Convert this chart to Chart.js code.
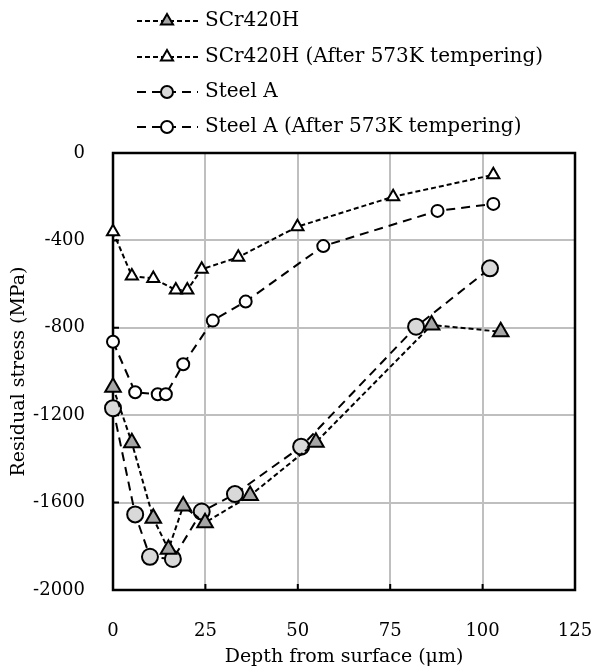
<!DOCTYPE html>
<html lang="en">
<head>
  <meta charset="UTF-8">
  <title>Residual stress vs depth</title>
  <script src="https://cdn.jsdelivr.net/npm/chart.js"></script>
  <style>
    html, body { margin: 0; padding: 0; background: #fff; }
    #wrap { width: 595px; height: 668px; }
  </style>
</head>
<body>
  <div id="wrap"><canvas id="stressChart" width="595" height="668"></canvas></div>

  <script>
    // depth (um) and residual stress (MPa)
    const depthSCr = [0, 5.1, 10.9, 15.0, 19.0, 24.9, 37.1, 54.9, 86.2, 104.9];
    const stressSCr = [-1072, -1326, -1672, -1814, -1616, -1692, -1568, -1324, -787, -818];

    const depthSCrT = [0, 5.1, 10.9, 17.0, 20.1, 24.0, 33.9, 49.9, 75.8, 102.9];
    const stressSCrT = [-360, -563, -574, -627, -627, -532, -477, -337, -200, -100];

    const depthA = [0, 6.0, 10.0, 16.2, 24.0, 33.0, 50.9, 82.0, 102.0];
    const stressA = [-1168, -1654, -1848, -1858, -1641, -1561, -1344, -795, -528];

    const depthAT = [0, 6.0, 12.1, 14.3, 19.0, 27.0, 35.9, 56.9, 87.8, 102.9];
    const stressAT = [-864, -1095, -1104, -1104, -967, -767, -680, -426, -265, -233];

    const seriesNames = ['SCr420H', 'SCr420H (After 573K tempering)', 'Steel A', 'Steel A (After 573K tempering)'];
    const xTicks = [0, 25, 50, 75, 100, 125];
    const yTicks = [0, -400, -800, -1200, -1600, -2000];

    const FONT = '"DejaVu Serif", "Liberation Serif", serif';

    function pts(xs, ys) {
      return xs.map((x, i) => ({ x: x, y: ys[i] }));
    }

    const shortDash = [5, 3];
    const longDash = [9, 6];

    const datasets = [
      {
        label: seriesNames[0], data: pts(depthSCr, stressSCr),
        borderDash: shortDash, pointStyle: 'triangle', pointRadius: 9,
        pointBackgroundColor: '#a6a6a6'
      },
      {
        label: seriesNames[1], data: pts(depthSCrT, stressSCrT),
        borderDash: shortDash, pointStyle: 'triangle', pointRadius: 7,
        pointBackgroundColor: '#ffffff'
      },
      {
        label: seriesNames[2], data: pts(depthA, stressA),
        borderDash: longDash, pointStyle: 'circle', pointRadius: 8,
        pointBackgroundColor: '#d9d9d9'
      },
      {
        label: seriesNames[3], data: pts(depthAT, stressAT),
        borderDash: longDash, pointStyle: 'circle', pointRadius: 6,
        pointBackgroundColor: '#ffffff'
      }
    ].map(d => Object.assign({
      showLine: true, borderColor: '#000', borderWidth: 2,
      pointBorderColor: '#000', pointBorderWidth: 2, clip: false
    }, d));

    // frame + inward tick marks, drawn under the markers
    const framePlugin = {
      id: 'frame',
      beforeDatasetsDraw(chart) {
        const { ctx, chartArea: a, scales } = chart;
        ctx.save();
        ctx.strokeStyle = '#000';
        ctx.lineWidth = 2;
        ctx.beginPath();
        scales.x.ticks.forEach(t => {
          const px = scales.x.getPixelForValue(t.value);
          ctx.moveTo(px, a.bottom); ctx.lineTo(px, a.bottom - 6);
        });
        scales.y.ticks.forEach(t => {
          const py = scales.y.getPixelForValue(t.value);
          ctx.moveTo(a.left, py); ctx.lineTo(a.left + 6, py);
        });
        ctx.stroke();
        ctx.lineWidth = 2.5;
        ctx.strokeRect(a.left, a.top, a.right - a.left, a.bottom - a.top);
        ctx.restore();
      }
    };

    // stacked legend in the top margin
    const legendPlugin = {
      id: 'stackLegend',
      afterDraw(chart) {
        const { ctx } = chart;
        const rows = [21, 57, 92, 127];
        const x0 = 137, x1 = 198, mx = 167, tx = 205;
        ctx.save();
        chart.data.datasets.forEach((ds, i) => {
          const y = rows[i];
          ctx.strokeStyle = '#000';
          ctx.lineWidth = 2;
          ctx.setLineDash(ds.borderDash);
          ctx.beginPath();
          ctx.moveTo(x0, y); ctx.lineTo(x1, y);
          ctx.stroke();
          ctx.setLineDash([]);
          ctx.fillStyle = ds.pointBackgroundColor;
          ctx.lineWidth = 2;
          Chart.helpers.drawPoint(ctx, { pointStyle: ds.pointStyle, radius: ds.pointStyle === 'triangle' ? 7 : 6, borderWidth: 2 }, mx, y);
          ctx.fillStyle = '#000';
          ctx.font = '20px ' + FONT;
          ctx.textBaseline = 'middle';
          ctx.textAlign = 'left';
          ctx.fillText(ds.label, tx, y);
        });
        ctx.restore();
      }
    };

    const ctx = document.getElementById('stressChart').getContext('2d');
    new Chart(ctx, {
      type: 'scatter',
      data: { datasets: datasets },
      options: {
        responsive: false,
        animation: false,
        layout: { padding: { top: 153, right: 20, left: 0, bottom: 0 } },
        plugins: { legend: { display: false }, tooltip: { enabled: false } },
        scales: {
          x: {
            type: 'linear', min: 0, max: 125,
            afterBuildTicks: s => { s.ticks = xTicks.map(v => ({ value: v })); },
            afterFit: s => { s.height = 78; s.paddingLeft = 0; s.paddingRight = 0; },
            grid: { color: '#bfbfbf', lineWidth: 2, drawTicks: false },
            border: { display: false },
            ticks: { color: '#000', padding: 31, font: { family: FONT, size: 18 }, callback: v => String(v) },
            title: {
              display: true, text: 'Depth from surface (μm)', color: '#000',
              font: { family: FONT, size: 19 }, padding: { top: 4, bottom: 0 }
            }
          },
          y: {
            type: 'linear', min: -2000, max: 0,
            afterBuildTicks: s => { s.ticks = yTicks.map(v => ({ value: v })); },
            afterFit: s => { s.width = 113; s.paddingTop = 0; s.paddingBottom = 0; },
            grid: { color: '#bfbfbf', lineWidth: 2, drawTicks: false },
            border: { display: false },
            ticks: { color: '#000', padding: 28, font: { family: FONT, size: 18 }, callback: v => String(v) },
            title: {
              display: true, text: 'Residual stress (MPa)', color: '#000',
              font: { family: FONT, size: 19 }, padding: { top: 8, bottom: 0 }
            }
          }
        }
      },
      plugins: [framePlugin, legendPlugin]
    });
  </script>
</body>
</html>
